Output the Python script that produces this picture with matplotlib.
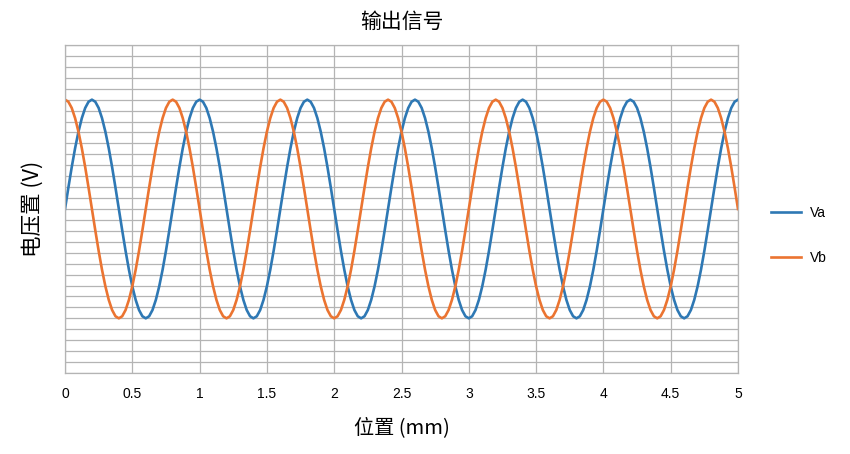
import numpy as np
import matplotlib
matplotlib.use('Agg')
import matplotlib.pyplot as plt

plt.rcParams['font.family'] = ['Liberation Sans', 'DejaVu Sans']
CJK = ['Noto Sans CJK SC', 'DejaVu Sans']

# position samples, 0.025 mm step from 0 to 5 mm
position = np.linspace(0, 5, 201)

# Va / Vb, one row per 0.8 mm period
va = (
    [0, .195, .383, .556, .707, .831, .924, .981, 1, .981, .924, .831, .707, .556, .383, .195,
     0, -.195, -.383, -.556, -.707, -.831, -.924, -.981, -1, -.981, -.924, -.831, -.707, -.556, -.383, -.195] +
    [0, .195, .383, .556, .707, .831, .924, .981, 1, .981, .924, .831, .707, .556, .383, .195,
     0, -.195, -.383, -.556, -.707, -.831, -.924, -.981, -1, -.981, -.924, -.831, -.707, -.556, -.383, -.195] +
    [0, .195, .383, .556, .707, .831, .924, .981, 1, .981, .924, .831, .707, .556, .383, .195,
     0, -.195, -.383, -.556, -.707, -.831, -.924, -.981, -1, -.981, -.924, -.831, -.707, -.556, -.383, -.195] +
    [0, .195, .383, .556, .707, .831, .924, .981, 1, .981, .924, .831, .707, .556, .383, .195,
     0, -.195, -.383, -.556, -.707, -.831, -.924, -.981, -1, -.981, -.924, -.831, -.707, -.556, -.383, -.195] +
    [0, .195, .383, .556, .707, .831, .924, .981, 1, .981, .924, .831, .707, .556, .383, .195,
     0, -.195, -.383, -.556, -.707, -.831, -.924, -.981, -1, -.981, -.924, -.831, -.707, -.556, -.383, -.195] +
    [0, .195, .383, .556, .707, .831, .924, .981, 1, .981, .924, .831, .707, .556, .383, .195,
     0, -.195, -.383, -.556, -.707, -.831, -.924, -.981, -1, -.981, -.924, -.831, -.707, -.556, -.383, -.195] +
    [0, .195, .383, .556, .707, .831, .924, .981, 1]
)
vb = (
    [1, .981, .924, .831, .707, .556, .383, .195, 0, -.195, -.383, -.556, -.707, -.831, -.924, -.981,
     -1, -.981, -.924, -.831, -.707, -.556, -.383, -.195, 0, .195, .383, .556, .707, .831, .924, .981] +
    [1, .981, .924, .831, .707, .556, .383, .195, 0, -.195, -.383, -.556, -.707, -.831, -.924, -.981,
     -1, -.981, -.924, -.831, -.707, -.556, -.383, -.195, 0, .195, .383, .556, .707, .831, .924, .981] +
    [1, .981, .924, .831, .707, .556, .383, .195, 0, -.195, -.383, -.556, -.707, -.831, -.924, -.981,
     -1, -.981, -.924, -.831, -.707, -.556, -.383, -.195, 0, .195, .383, .556, .707, .831, .924, .981] +
    [1, .981, .924, .831, .707, .556, .383, .195, 0, -.195, -.383, -.556, -.707, -.831, -.924, -.981,
     -1, -.981, -.924, -.831, -.707, -.556, -.383, -.195, 0, .195, .383, .556, .707, .831, .924, .981] +
    [1, .981, .924, .831, .707, .556, .383, .195, 0, -.195, -.383, -.556, -.707, -.831, -.924, -.981,
     -1, -.981, -.924, -.831, -.707, -.556, -.383, -.195, 0, .195, .383, .556, .707, .831, .924, .981] +
    [1, .981, .924, .831, .707, .556, .383, .195, 0, -.195, -.383, -.556, -.707, -.831, -.924, -.981,
     -1, -.981, -.924, -.831, -.707, -.556, -.383, -.195, 0, .195, .383, .556, .707, .831, .924, .981] +
    [1, .981, .924, .831, .707, .556, .383, .195, 0]
)

x_ticks = [0, 0.5, 1, 1.5, 2, 2.5, 3, 3.5, 4, 4.5, 5]
x_tick_labels = ['0', '0.5', '1', '1.5', '2', '2.5', '3', '3.5', '4', '4.5', '5']

fig = plt.figure(figsize=(8.5, 4.54), dpi=100)
ax = fig.add_axes([65 / 850, 1 - 373 / 454, 673 / 850, 328 / 454])

ax.plot(position, va, color='#2E78B4', lw=1.9, label='Va')
ax.plot(position, vb, color='#EB7431', lw=1.9, label='Vb')

ax.set_xlim(0, 5)
ax.set_ylim(-1.5, 1.5)
ax.set_xticks(x_ticks)
ax.set_xticklabels(x_tick_labels)
ax.set_yticks(np.round(np.arange(-1.5, 1.51, 0.1), 2))
ax.set_yticklabels([])
ax.tick_params(length=0, labelsize=10, pad=10)
ax.grid(True, color='#b4b4b4', lw=0.9)
ax.set_axisbelow(True)
for s in ax.spines.values():
    s.set_color('#b4b4b4')
    s.set_linewidth(0.9)

ax.text(0.5, 1.07, '输出信号', transform=ax.transAxes, ha='center', va='center',
        fontsize=15, family=CJK)
ax.set_ylabel('电压置 (V)', fontsize=15.5, family=CJK)
ax.yaxis.set_label_coords(-0.031, 0.5)
ax.set_xlabel('位置 (mm)', fontsize=14.5, family=CJK)
ax.xaxis.set_label_coords(0.5, -0.135)

ax.legend(loc='center left', bbox_to_anchor=(1.03, 0.42), frameon=False, fontsize=10,
          labelspacing=2.2, handlelength=2.2, handletextpad=0.6)

fig.savefig('out.png', dpi=100)
